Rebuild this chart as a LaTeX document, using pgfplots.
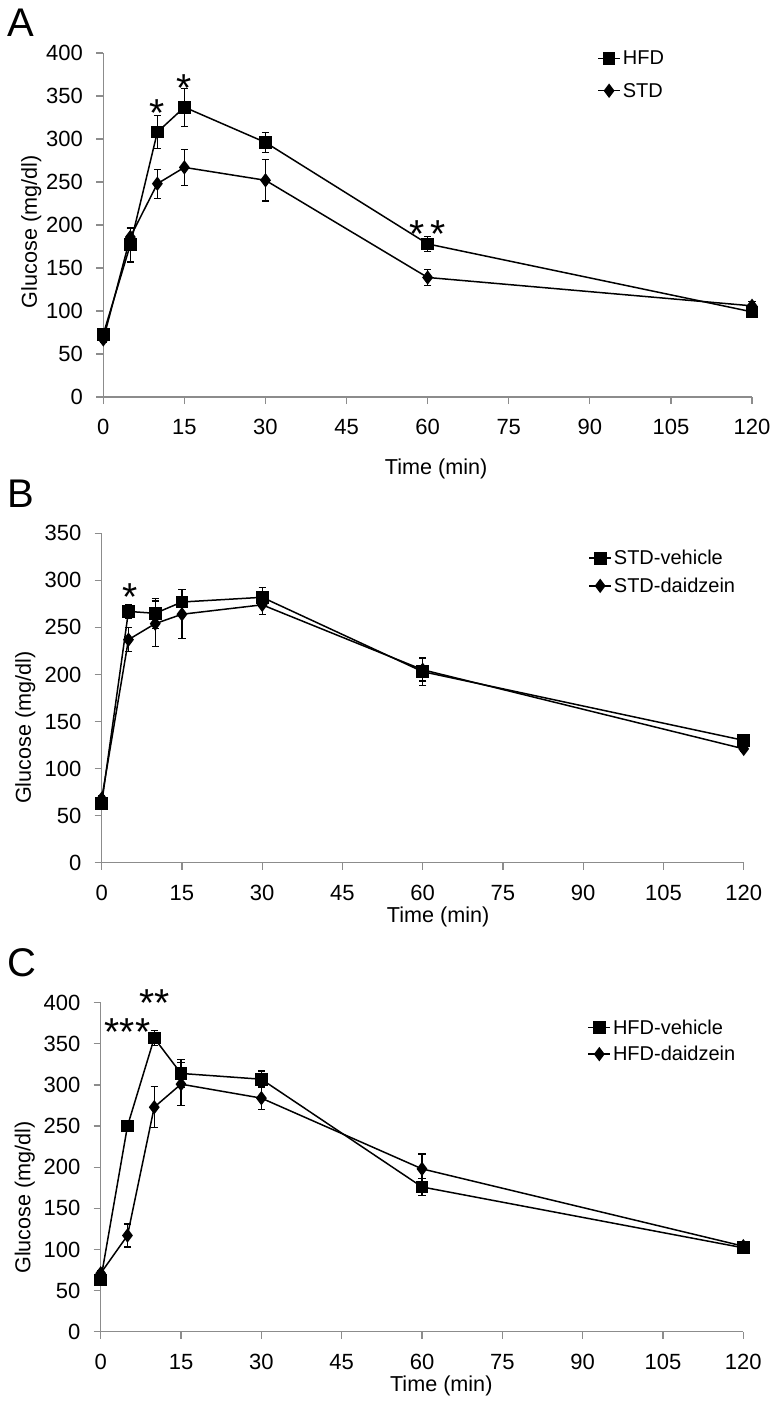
\documentclass[border=0pt]{standalone}
\usepackage{fontspec}
\setmainfont{Liberation Sans}
\usepackage{pgfplots}
\pgfplotsset{compat=1.18}
\pgfplotsset{
  gstyle/.style={
    scale only axis, clip=false,
    axis lines*=left,
    axis line style={black!45, line width=0.6pt},
    tick style={black!45, line width=0.6pt},
    tick align=outside, major tick length=3.5pt,
    xmin=0, xmax=120, xtick={0,15,...,120},
    ymin=0,
    /pgf/number format/assume math mode=true,
    tick label style={font=\fontsize{11}{13}\selectfont},
    yticklabel style={inner sep=0pt, anchor=east, xshift=-10pt+3.5pt},
    xticklabel style={inner sep=0pt, anchor=north, yshift=-11pt+3.5pt},
    label style={font=\fontsize{10.8}{13}\selectfont},
    xlabel={Time (min)}, ylabel={Glucose (mg/dl)},
    legend style={draw=none, fill=none, inner sep=0pt, anchor=west,
      font=\fontsize{10}{12}\selectfont,
      nodes={inner sep=1pt, text height=1.5ex, text depth=.25ex}},
    legend cell align=left,
    legend image code/.code={\draw[mark repeat=2,mark phase=2,##1] plot coordinates {(0pt,0pt)(5.5pt,0pt)(11pt,0pt)};},
    sq/.style={black, line width=0.75pt, mark=square*, mark size=2.8pt, mark options={solid},
      error bars/.cd, y dir=both, y explicit, error bar style={line width=0.6pt, black},
      error mark options={rotate=90, mark size=1.8pt, line width=0.6pt, black}},
    di/.style={black, line width=0.75pt, mark=diamond*, mark size=3pt, mark options={solid},
      error bars/.cd, y dir=both, y explicit, error bar style={line width=0.6pt, black},
      error mark options={rotate=90, mark size=1.8pt, line width=0.6pt, black}},
  },
}
\tikzset{star/.style={font=\fontsize{19.5}{22}\selectfont, anchor=base, yshift=-11.5pt, inner sep=0pt}}
\begin{document}
\begin{tikzpicture}
\path[use as bounding box] (0,0) rectangle (388pt,-700.5pt);
% Panel letters
\node[anchor=base west, inner sep=0pt, font=\fontsize{20}{22}\selectfont] at (3.5pt,-18.5pt) {A};
\node[anchor=base west, inner sep=0pt, font=\fontsize{20}{22}\selectfont] at (3.5pt,-253.5pt) {B};
\node[anchor=base west, inner sep=0pt, font=\fontsize{20}{22}\selectfont] at (3.5pt,-488pt) {C};

% ---------------- Panel A ----------------
\begin{axis}[gstyle, at={(51.65pt,-198.5pt)}, anchor=south west,
  width=324.35pt, height=172pt, ymax=400, ytick={0,50,...,400},
  xlabel style={at={(axis description cs:0.513,-0.209)}, anchor=center},
  ylabel style={at={(axis description cs:-0.111,0.48)}, anchor=center},
  legend style={at={(axis description cs:0.761,0.9375)}, row sep=5pt}]
\addplot+[sq] coordinates {
 (0,73) +- (0,4)
 (5,177) +- (0,20)
 (10,308) +- (0,19)
 (15,337) +- (0,22)
 (30,296) +- (0,12)
 (60,178) +- (0,9)
 (120,99) +- (0,5)
};
\addlegendentry{HFD}
\addplot+[di] coordinates {
 (0,67) +- (0,4)
 (5,186) +- (0,10)
 (10,248) +- (0,17)
 (15,267) +- (0,21)
 (30,252) +- (0,24)
 (60,139) +- (0,9)
 (120,106) +- (0,5)
};
\addlegendentry{STD}
\node[star] at (axis cs:10,341.5) {*};
\node[star] at (axis cs:15,370) {*};
\node[star] at (axis cs:60,201) {*\,*};
\end{axis}

% ---------------- Panel B ----------------
\begin{axis}[gstyle, at={(50.85pt,-431.35pt)}, anchor=south west,
  width=321pt, height=164.7pt, ymax=350, ytick={0,50,...,350},
  xlabel style={at={(axis description cs:0.524,-0.165)}, anchor=center},
  ylabel style={at={(axis description cs:-0.119,0.41)}, anchor=center},
  legend style={at={(axis description cs:0.7575,0.8825)}, row sep=2.6pt}]
\addplot+[sq] coordinates {
 (0,63) +- (0,3)
 (5,267) +- (0,7)
 (10,265) +- (0,16)
 (15,277) +- (0,13)
 (30,282) +- (0,10)
 (60,203) +- (0,15)
 (120,130) +- (0,3)
};
\addlegendentry{STD-vehicle}
\addplot+[di] coordinates {
 (0,68) +- (0,3)
 (5,237) +- (0,13)
 (10,254) +- (0,24)
 (15,264) +- (0,26)
 (30,274) +- (0,10)
 (60,205) +- (0,12)
 (120,121) +- (0,3)
};
\addlegendentry{STD-daidzein}
\node[star] at (axis cs:5.3,292.5) {*};
\end{axis}

% ---------------- Panel C ----------------
\begin{axis}[gstyle, at={(50.35pt,-665.85pt)}, anchor=south west,
  width=321.3pt, height=164.5pt, ymax=400, ytick={0,50,...,400},
  xlabel style={at={(axis description cs:0.53,-0.165)}, anchor=center},
  ylabel style={at={(axis description cs:-0.118,0.408)}, anchor=center},
  legend style={at={(axis description cs:0.757,0.884)}, row sep=2pt}]
\addplot+[sq] coordinates {
 (0,63) +- (0,3)
 (5,250) +- (0,4)
 (10,357) +- (0,9)
 (15,314) +- (0,17)
 (30,307) +- (0,10)
 (60,176) +- (0,10)
 (120,102) +- (0,4)
};
\addlegendentry{HFD-vehicle}
\addplot+[di] coordinates {
 (0,71) +- (0,3)
 (5,117) +- (0,14)
 (10,273) +- (0,25)
 (15,301) +- (0,26)
 (30,284) +- (0,14)
 (60,198) +- (0,18)
 (120,104) +- (0,3)
};
\addlegendentry{HFD-daidzein}
\node[star] at (axis cs:5,375.5) {***};
\node[star] at (axis cs:10.1,411.5) {**};
\end{axis}
\end{tikzpicture}
\end{document}
